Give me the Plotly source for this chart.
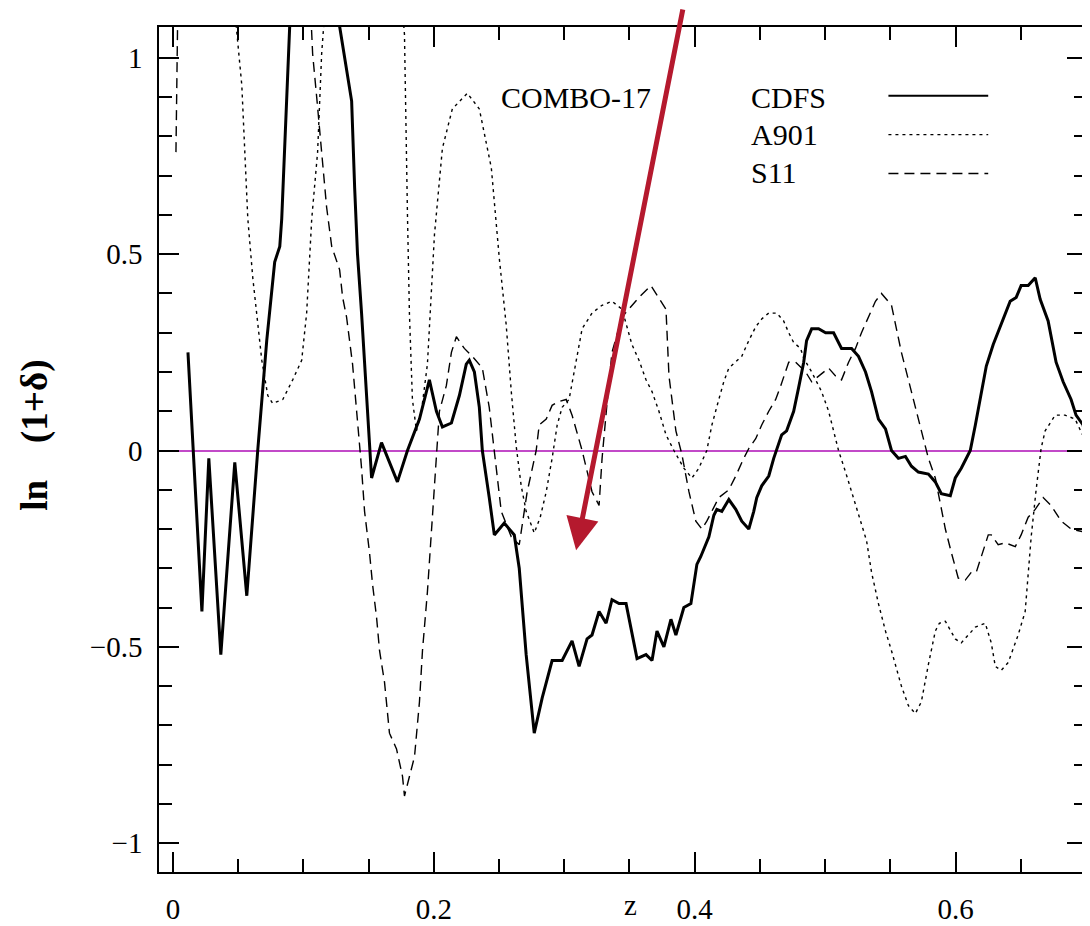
import plotly.graph_objects as go

# ---------------- data ----------------
cdfs_z = [0.0115, 0.0222, 0.0275, 0.0367, 0.0474, 0.0566, 0.0650, 0.0719, 0.0780, 0.0819,
          0.0834, 0.0857, 0.0872, 0.0895, 0.0972, 0.1201, 0.1278, 0.1331, 0.1370, 0.1393,
          0.1415, 0.1446, 0.1484, 0.1507, 0.1523, 0.1599, 0.1660, 0.1721, 0.1798, 0.1890,
          0.1966, 0.2020, 0.2066, 0.2135, 0.2196, 0.2249, 0.2272, 0.2311, 0.2349, 0.2372,
          0.2425, 0.2464, 0.2540, 0.2617, 0.2655, 0.2708, 0.2770, 0.2831, 0.2907, 0.2984,
          0.3060, 0.3114, 0.3175, 0.3213, 0.3267, 0.3321, 0.3366, 0.3420, 0.3474, 0.3558,
          0.3627, 0.3673, 0.3711, 0.3764, 0.3818, 0.3856, 0.3917, 0.3971, 0.4017, 0.4047,
          0.4109, 0.4147, 0.4170, 0.4208, 0.4262, 0.4315, 0.4361, 0.4415, 0.4453, 0.4476,
          0.4514, 0.4568, 0.4606, 0.4629, 0.4667, 0.4705, 0.4759, 0.4797, 0.4836, 0.4858,
          0.4897, 0.4950, 0.5004, 0.5065, 0.5126, 0.5203, 0.5256, 0.5310, 0.5356, 0.5409,
          0.5463, 0.5509, 0.5562, 0.5616, 0.5662, 0.5715, 0.5792, 0.5845, 0.5891, 0.5960,
          0.5998, 0.6044, 0.6113, 0.6152, 0.6190, 0.6236, 0.6289, 0.6350, 0.6419, 0.6465,
          0.6503, 0.6557, 0.6611, 0.6649, 0.6710, 0.6771, 0.6825, 0.6886, 0.6924, 0.6978,
          0.7016]
cdfs_v = [0.25, -0.41, -0.02, -0.52, -0.03, -0.37, 0.0, 0.28, 0.48, 0.52,
          0.59, 0.76, 0.90, 1.08, 1.35, 1.35, 1.08, 0.97, 0.89, 0.67,
          0.50, 0.35, 0.13, 0.0, -0.07, 0.02, -0.03, -0.08, 0.0, 0.08,
          0.18, 0.10, 0.06, 0.07, 0.14, 0.22, 0.23, 0.20, 0.11, 0.0,
          -0.12, -0.215, -0.185, -0.215, -0.30, -0.52, -0.72, -0.63, -0.535, -0.535,
          -0.485, -0.55, -0.48, -0.47, -0.41, -0.44, -0.38, -0.39, -0.39, -0.53,
          -0.52, -0.535, -0.46, -0.50, -0.43, -0.47, -0.40, -0.39, -0.29, -0.27,
          -0.22, -0.165, -0.15, -0.155, -0.125, -0.15, -0.18, -0.20, -0.155, -0.12,
          -0.09, -0.065, -0.02, 0.005, 0.04, 0.05, 0.10, 0.16, 0.225, 0.28,
          0.31, 0.31, 0.30, 0.30, 0.26, 0.26, 0.24, 0.20, 0.15, 0.08,
          0.055, 0.0, -0.02, -0.015, -0.04, -0.055, -0.06, -0.08, -0.11, -0.115,
          -0.07, -0.045, 0.0, 0.065, 0.13, 0.215, 0.27, 0.32, 0.38, 0.39,
          0.42, 0.42, 0.44, 0.385, 0.33, 0.225, 0.175, 0.13, 0.09, 0.065,
          0.0]

a901_z = [0.0474, 0.0490, 0.0528, 0.0551, 0.0574, 0.0612, 0.0643, 0.0681, 0.0727, 0.0765,
          0.0842, 0.0918, 0.0987, 0.1025, 0.1064, 0.1109, 0.1140, 0.1171, 0.1354, 0.1660,
          0.1760, 0.1775, 0.1798, 0.1813, 0.1836, 0.1867, 0.1905, 0.1951, 0.2005, 0.2066,
          0.2142, 0.2257, 0.2349, 0.2441, 0.2502, 0.2555, 0.2594, 0.2632, 0.2670, 0.2708,
          0.2770, 0.2816, 0.2862, 0.2907, 0.2946, 0.2984, 0.3037, 0.3091, 0.3137, 0.3213,
          0.3290, 0.3366, 0.3443, 0.3519, 0.3573, 0.3627, 0.3673, 0.3726, 0.3780, 0.3841,
          0.3917, 0.3979, 0.4032, 0.4093, 0.4132, 0.4185, 0.4223, 0.4262, 0.4361, 0.4415,
          0.4468, 0.4514, 0.4568, 0.4629, 0.4682, 0.4721, 0.4759, 0.4812, 0.4836, 0.4897,
          0.4973, 0.5027, 0.5103, 0.5157, 0.5203, 0.5256, 0.5318, 0.5356, 0.5409, 0.5463,
          0.5509, 0.5585, 0.5639, 0.5692, 0.5738, 0.5792, 0.5845, 0.5876, 0.5922, 0.5998,
          0.6044, 0.6098, 0.6152, 0.6228, 0.6274, 0.6305, 0.6350, 0.6404, 0.6427, 0.6480,
          0.6534, 0.6557, 0.6580, 0.6618, 0.6656, 0.6687, 0.6764, 0.6840, 0.6917, 0.7016]
a901_v = [1.12, 1.06, 0.93, 0.76, 0.59, 0.44, 0.35, 0.23, 0.14, 0.12,
          0.13, 0.18, 0.23, 0.35, 0.59, 0.76, 1.01, 1.15, 1.40, 1.40,
          1.12, 1.06, 0.60, 0.35, 0.13, 0.05, 0.10, 0.22, 0.55, 0.77,
          0.87, 0.91, 0.87, 0.72, 0.49, 0.32, 0.15, 0.01, -0.09, -0.155,
          -0.21, -0.17, -0.105, -0.02, 0.065, 0.11, 0.13, 0.23, 0.31, 0.35,
          0.37, 0.38, 0.36, 0.27, 0.23, 0.18, 0.15, 0.10, 0.04, 0.0,
          -0.045, -0.07, -0.045, 0.0, 0.065, 0.13, 0.175, 0.21, 0.24, 0.28,
          0.315, 0.335, 0.35, 0.35, 0.33, 0.30, 0.275, 0.26, 0.235, 0.20,
          0.15, 0.10, 0.0, -0.055, -0.105, -0.165, -0.23, -0.31, -0.39, -0.46,
          -0.51, -0.60, -0.65, -0.67, -0.64, -0.545, -0.46, -0.44, -0.435, -0.48,
          -0.49, -0.47, -0.45, -0.44, -0.49, -0.55, -0.56, -0.54, -0.52, -0.47,
          -0.41, -0.31, -0.22, -0.10, 0.005, 0.05, 0.09, 0.09, 0.08, 0.01]

s11_z = [0.0023, 0.0038, 0.0092, 0.0972, 0.1056, 0.1071, 0.1102, 0.1125, 0.1148, 0.1178,
         0.1217, 0.1278, 0.1301, 0.1331, 0.1377, 0.1415, 0.1446, 0.1469, 0.1507, 0.1530,
         0.1561, 0.1584, 0.1622, 0.1660, 0.1714, 0.1760, 0.1775, 0.1798, 0.1852, 0.1890,
         0.1913, 0.1951, 0.1989, 0.2020, 0.2043, 0.2096, 0.2135, 0.2173, 0.2234, 0.2295,
         0.2372, 0.2425, 0.2464, 0.2517, 0.2594, 0.2655, 0.2716, 0.2785, 0.2808, 0.2862,
         0.2907, 0.2961, 0.3015, 0.3060, 0.3137, 0.3213, 0.3267, 0.3290, 0.3328, 0.3366,
         0.3443, 0.3573, 0.3665, 0.3726, 0.3780, 0.3803, 0.3856, 0.3902, 0.3956, 0.4009,
         0.4055, 0.4093, 0.4185, 0.4262, 0.4315, 0.4376, 0.4415, 0.4468, 0.4514, 0.4568,
         0.4621, 0.4660, 0.4698, 0.4721, 0.4774, 0.4851, 0.4897, 0.4950, 0.5027, 0.5080,
         0.5126, 0.5180, 0.5233, 0.5279, 0.5333, 0.5386, 0.5432, 0.5509, 0.5585, 0.5662,
         0.5738, 0.5792, 0.5845, 0.5884, 0.5922, 0.5968, 0.6021, 0.6075, 0.6121, 0.6159,
         0.6197, 0.6251, 0.6274, 0.6327, 0.6381, 0.6458, 0.6503, 0.6557, 0.6611, 0.6672,
         0.6733, 0.6810, 0.6886, 0.7016]
s11_v = [0.76, 1.15, 1.40, 1.40, 1.12, 1.01, 0.90, 0.81, 0.72, 0.62,
         0.52, 0.46, 0.39, 0.34, 0.22, 0.08, -0.045, -0.155, -0.26, -0.34,
         -0.425, -0.51, -0.59, -0.72, -0.76, -0.83, -0.88, -0.85, -0.78, -0.64,
         -0.51, -0.36, -0.17, 0.0, 0.10, 0.165, 0.25, 0.29, 0.26, 0.24,
         0.21, 0.11, 0.0, -0.155, -0.22, -0.24, -0.105, 0.0, 0.065, 0.08,
         0.115, 0.125, 0.13, 0.09, 0.0, -0.105, -0.14, -0.02, 0.12, 0.25,
         0.34, 0.39, 0.42, 0.39, 0.36, 0.19, 0.05, -0.01, -0.105, -0.18,
         -0.20, -0.18, -0.12, -0.10, -0.065, -0.02, 0.005, 0.03, 0.065, 0.10,
         0.13, 0.165, 0.20, 0.225, 0.225, 0.20, 0.175, 0.19, 0.21, 0.19,
         0.18, 0.225, 0.26, 0.30, 0.34, 0.38, 0.40, 0.37, 0.25, 0.15,
         0.05, -0.02, -0.07, -0.14, -0.20, -0.26, -0.325, -0.33, -0.31, -0.31,
         -0.27, -0.215, -0.215, -0.24, -0.235, -0.245, -0.215, -0.17, -0.15, -0.12,
         -0.14, -0.18, -0.20, -0.21]

series_names = ["CDFS", "A901", "S11"]
x_tick_vals = [0, 0.2, 0.4, 0.6]
x_tick_text = ["0", "0.2", "0.4", "0.6"]
y_tick_vals = [-1, -0.5, 0, 0.5, 1]
y_tick_text = ["\u22121", "\u22120.5", "0", "0.5", "1"]

# ---------------- figure ----------------
SERIF = "Liberation Serif"
OFF = 8                      # default page body margin
W, H = 1090 - OFF, 926 - OFF
ML, MR, MT, MB = 159 - OFF, 1, 27 - OFF, 51
PW, PH = W - ML - MR, H - MT - MB

def px_x(p):  # screen pixel -> paper x
    return (p - OFF - ML) / PW

def px_y(p):  # screen pixel -> paper y
    return (OFF + H - MB - p) / PH

fig = go.Figure()
fig.add_trace(go.Scatter(x=a901_z, y=a901_v, mode="lines", name=series_names[1],
                         line=dict(color="black", width=1.4, dash="3px,4px")))
fig.add_trace(go.Scatter(x=s11_z, y=s11_v, mode="lines", name=series_names[2],
                         line=dict(color="black", width=1.4, dash="10px,6px")))
fig.add_trace(go.Scatter(x=cdfs_z, y=cdfs_v, mode="lines", name=series_names[0],
                         line=dict(color="black", width=3)))

axis_common = dict(showline=True, linecolor="black", linewidth=1.6, mirror="ticks",
                   ticks="inside", ticklen=20, tickwidth=1.5, tickcolor="black",
                   showgrid=False, tickfont=dict(family=SERIF, size=29, color="black"))

fig.update_xaxes(range=[-0.0107, 0.7008], tickvals=x_tick_vals, ticktext=x_tick_text,
                 zeroline=False, ticklabelstandoff=10,
                 minor=dict(dtick=0.05, tick0=0, ticks="inside", ticklen=13,
                            tickwidth=1.5, tickcolor="black", showgrid=False),
                 **axis_common)
fig.update_yaxes(range=[-1.0736, 1.0787], tickvals=y_tick_vals, ticktext=y_tick_text,
                 zeroline=True, zerolinecolor="#c24ac8", zerolinewidth=1.6,
                 ticklabelstandoff=9,
                 minor=dict(dtick=0.1, tick0=0, ticks="inside", ticklen=13,
                            tickwidth=1.5, tickcolor="black", showgrid=False),
                 **axis_common)

annotations = [
    dict(text="COMBO-17", x=px_x(500), y=px_y(98), xanchor="left", yanchor="middle"),
    dict(text=series_names[0], x=px_x(750), y=px_y(98), xanchor="left", yanchor="middle"),
    dict(text=series_names[1], x=px_x(750), y=px_y(135), xanchor="left", yanchor="middle"),
    dict(text=series_names[2], x=px_x(750), y=px_y(173), xanchor="left", yanchor="middle"),
]
for a in annotations:
    a.update(xref="paper", yref="paper", showarrow=False,
             font=dict(family=SERIF, size=30, color="black"))

annotations.append(dict(text="z", x=px_x(632), y=px_y(908), xref="paper", yref="paper",
                        showarrow=False, xanchor="center", yanchor="middle",
                        font=dict(family=SERIF, size=29, color="black")))
annotations.append(dict(text="<b>ln    (1+\u03b4)</b>", x=px_x(34), y=px_y(437),
                        xref="paper", yref="paper", showarrow=False, textangle=-90,
                        xanchor="center", yanchor="middle",
                        font=dict(family=SERIF, size=37, color="black")))
# red arrow
annotations.append(dict(text="", x=px_x(577), y=px_y(552), xref="paper", yref="paper",
                        showarrow=True, ax=107, ay=-562, arrowhead=2, arrowsize=1.3,
                        arrowwidth=5, arrowcolor="#b5192e", standoff=0))
fig.update_layout(annotations=annotations)

legend_styles = [dict(width=2, dash="solid"), dict(width=1.4, dash="3px,4px"),
                 dict(width=1.4, dash="10px,6px")]
legend_rows = [96, 135, 174]
for row, st in zip(legend_rows, legend_styles):
    fig.add_shape(type="line", xref="paper", yref="paper",
                  x0=px_x(890), x1=px_x(990), y0=px_y(row), y1=px_y(row),
                  line=dict(color="black", **st))

fig.update_layout(width=W, height=H, margin=dict(l=ML, r=MR, t=MT, b=MB),
                  paper_bgcolor="white", plot_bgcolor="white", showlegend=False)

fig.write_html("out.html")
